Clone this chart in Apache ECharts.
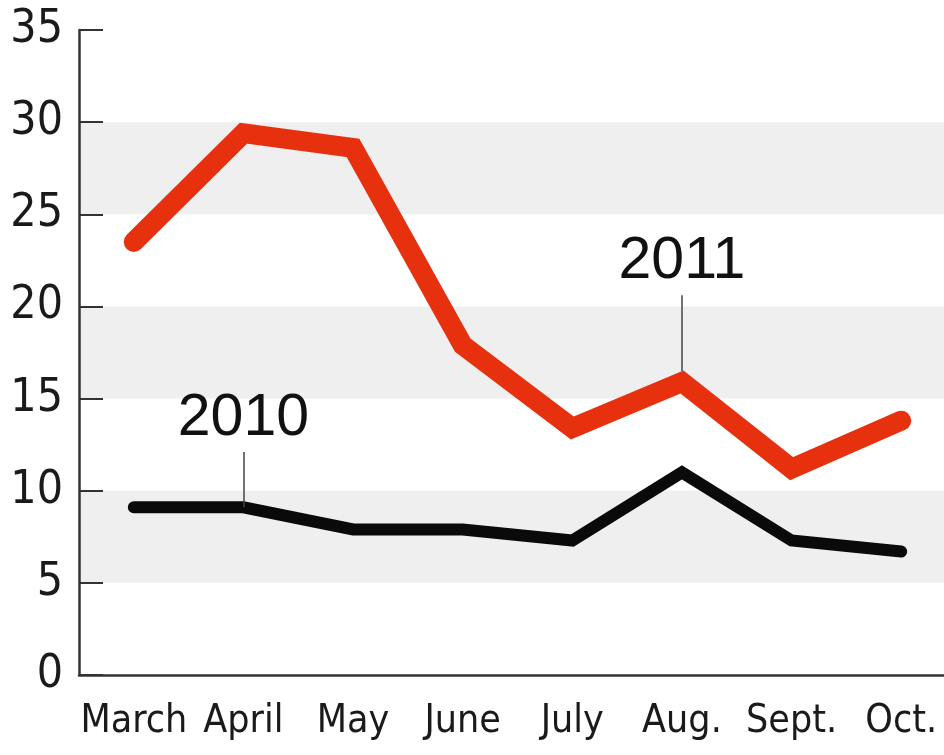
<!DOCTYPE html>
<html>
<head>
<meta charset="utf-8">
<script src="https://cdn.jsdelivr.net/npm/echarts@6/dist/echarts.min.js"></script>
<style>
  html, body { margin: 0; padding: 0; background: #fff; }
  #chart { width: 944px; height: 755px; }
</style>
</head>
<body>
<div id="chart"></div>
<script>
var months = ["March", "April", "May", "June", "July", "Aug.", "Sept.", "Oct."];
var values2011 = [23.5, 29.4, 28.6, 17.9, 13.4, 15.9, 11.2, 13.8];
var values2010 = [9.1, 9.1, 7.9, 7.9, 7.3, 11.0, 7.3, 6.7];
var yTicks = [0, 5, 10, 15, 20, 25, 30, 35];

(function () {
  var myechart = echarts.init(document.getElementById("chart"));
  var narrow = "'DejaVu Sans Condensed', 'Liberation Sans Narrow', sans-serif";
  var regular = "'Liberation Sans', Arial, sans-serif";
  var axisColor = "#333333";

  var option = {
    animation: false,
    backgroundColor: "#ffffff",
    grid: {
      left: 79,
      top: 30,
      width: 877,
      height: 645,
      outerBoundsMode: "none",
    },
    xAxis: {
      type: "category",
      data: months,
      boundaryGap: true,
      axisLine: { lineStyle: { color: axisColor, width: 2.5 } },
      axisTick: {
        alignWithLabel: true,
        inside: true,
        length: 15,
        lineStyle: { color: axisColor, width: 2 },
      },
      axisLabel: {
        interval: 0,
        color: "#1a1a1a",
        fontFamily: narrow,
        fontSize: 39,
        margin: 27,
      },
    },
    yAxis: {
      type: "value",
      min: yTicks[0],
      max: yTicks[yTicks.length - 1],
      interval: 5,
      axisLine: { show: true, lineStyle: { color: axisColor, width: 2.5 } },
      axisTick: {
        show: true,
        inside: true,
        length: 24,
        lineStyle: { color: axisColor, width: 2 },
      },
      axisLabel: {
        color: "#1a1a1a",
        fontFamily: narrow,
        fontSize: 46,
        margin: 16,
      },
      splitLine: { show: false },
      splitArea: {
        show: true,
        areaStyle: { color: ["rgba(255,255,255,0)", "#efefef"] },
      },
    },
    series: [
      {
        name: "2010",
        type: "line",
        data: values2010,
        showSymbol: false,
        symbol: "none",
        lineStyle: { color: "#0a0a0a", width: 12, cap: "round", join: "miter" },
        z: 3,
        markLine: {
          silent: true,
          symbol: "none",
          lineStyle: { color: "#444", width: 1.5, type: "solid" },
          label: {
            show: true,
            position: "end",
            formatter: "2010",
            color: "#111",
            fontFamily: regular,
            fontSize: 59,
            distance: 4,
          },
          data: [[{ coord: ["April", 9.1] }, { coord: ["April", 12.1] }]],
        },
      },
      {
        name: "2011",
        type: "line",
        data: values2011,
        showSymbol: false,
        symbol: "none",
        lineStyle: { color: "#e6300e", width: 20, cap: "round", join: "miter" },
        z: 4,
        markLine: {
          silent: true,
          symbol: "none",
          lineStyle: { color: "#444", width: 1.5, type: "solid" },
          label: {
            show: true,
            position: "end",
            formatter: "2011",
            color: "#111",
            fontFamily: regular,
            fontSize: 59,
            distance: 4,
          },
          data: [[{ coord: ["Aug.", 16.5] }, { coord: ["Aug.", 20.6] }]],
        },
      },
    ],
  };

  myechart.setOption(option);
  window.addEventListener("resize", function () {
    myechart.resize();
  });
})();
</script>
</body>
</html>
